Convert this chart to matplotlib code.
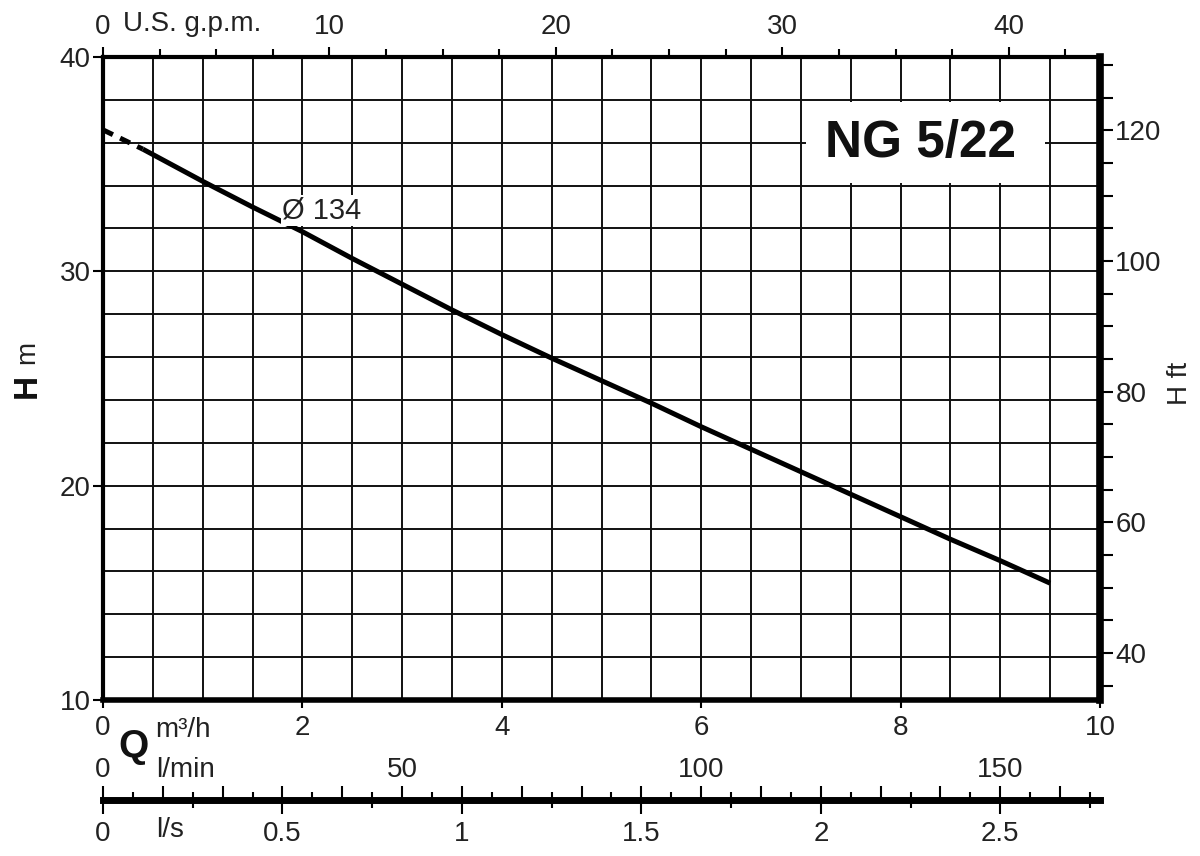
import numpy as np
import matplotlib
matplotlib.use("Agg")
import matplotlib.pyplot as plt
from matplotlib.ticker import MultipleLocator, FixedLocator, FuncFormatter
from matplotlib.patches import Rectangle

plt.rcParams['font.family'] = ['Liberation Sans', 'DejaVu Sans']

# pump curve NG 5/22, impeller 134 mm  (Q in m3/h, H in m)
q_curve = [0.4, 0.5, 1.0, 1.5, 2.0, 2.5, 3.0, 3.5, 4.0, 4.5, 5.0, 5.5, 6.0, 6.5, 7.0, 7.5, 8.0, 8.5, 9.0, 9.5]
h_curve = [35.7, 35.45, 34.2, 33.0, 31.85, 30.6, 29.4, 28.2, 27.05, 25.95, 24.9, 23.85, 22.75, 21.7, 20.65, 19.6, 18.55, 17.5, 16.5, 15.45]
# dashed start (shut-off head)
q_dash = [0.0, 0.4]
h_dash = [36.6, 35.7]

model = "NG 5/22"
diam_label = "Ø 134"

gpm_labels = [0, 10, 20, 30, 40]
gpm_minor = [0, 2.5, 5, 7.5, 10, 12.5, 15, 17.5, 20, 22.5, 25, 27.5, 30, 32.5, 35, 37.5, 40, 42.5]

# unit conversions
GPM = 4.4029      # US gpm per m3/h
FT = 3.2808       # ft per m
LMIN = 60.0       # l/min per l/s
LS = 1 / 3.6      # l/s per m3/h

tick_col = '#222222'
fs = 20
W, H = 1200, 856

fig = plt.figure(figsize=(12, 8.56), dpi=100)
ax = fig.add_axes([103 / W, 1 - 700 / H, 997 / W, 643 / H])

ax.set_xlim(0, 10)
ax.set_ylim(10, 40)
ax.set_xticks([0, 2, 4, 6, 8, 10])
ax.set_yticks([10, 20, 30, 40])
ax.set_xticks(np.arange(0, 10.01, 0.5), minor=True)
ax.set_yticks(np.arange(10, 40.01, 2), minor=True)
ax.grid(True, which='both', color='#111111', lw=1.4)
ax.tick_params(which='minor', length=0)
ax.tick_params(axis='x', which='major', direction='out', length=6, width=1.5,
               labelsize=fs, labelcolor=tick_col, pad=5)
ax.tick_params(axis='y', which='major', direction='out', length=7, width=1.5,
               labelsize=fs, labelcolor=tick_col, pad=2)
ax.spines['left'].set_linewidth(3)
ax.spines['top'].set_linewidth(3)
ax.spines['bottom'].set_linewidth(4)
ax.spines['right'].set_linewidth(5.5)

ax.plot(q_curve, h_curve, color='black', lw=3.6, solid_capstyle='butt', zorder=3)
ax.plot(q_dash, h_dash, color='black', lw=3.6, ls=(0, (2.2, 1.6)), zorder=3)

ax.add_patch(Rectangle((7.05, 34.1), 2.4, 3.8, facecolor='white', edgecolor='none', zorder=2))
ax.text(8.2, 35.95, model, fontsize=37, fontweight='bold', ha='center', va='center',
        color='#111111', zorder=4)
ax.text(1.8, 32.85, diam_label, fontsize=21, ha='left', va='center', color='#222222', zorder=4,
        bbox=dict(facecolor='white', edgecolor='none', pad=1))

# top axis: US gpm
top = ax.secondary_xaxis('top', functions=(lambda q: q * GPM, lambda g: g / GPM))
top.xaxis.set_major_locator(FixedLocator(gpm_labels))
top.xaxis.set_minor_locator(FixedLocator(gpm_minor))
top.tick_params(which='major', length=7, width=1.5, labelsize=fs, labelcolor=tick_col, pad=5)
top.tick_params(which='minor', length=6, width=1.5)
top.spines['top'].set_visible(False)

# right axis: H ft
right = ax.secondary_yaxis('right', functions=(lambda h: h * FT, lambda f: f / FT))
right.yaxis.set_major_locator(MultipleLocator(5))
right.yaxis.set_major_formatter(FuncFormatter(lambda v, p: f"{v:.0f}" if round(v) % 20 == 0 else ""))
right.tick_params(which='major', length=9, width=1.5, labelsize=fs, labelcolor=tick_col, pad=2)
right.spines['right'].set_visible(False)

# lower scale: l/s below, l/min above
axq = fig.add_axes([103 / W, 1 - 800 / H, 997 / W, 0.0001])
axq.set_xlim(0, 10 * LS)
axq.set_yticks([])
for s in ['left', 'right', 'top']:
    axq.spines[s].set_visible(False)
axq.spines['bottom'].set_linewidth(5)
axq.patch.set_visible(False)
axq.xaxis.set_major_locator(MultipleLocator(0.5))
axq.xaxis.set_minor_locator(MultipleLocator(0.25))
axq.xaxis.set_major_formatter(FuncFormatter(lambda v, p: f"{v:g}"))
axq.tick_params(axis='x', which='major', length=10, width=1.5, labelsize=fs,
                labelcolor=tick_col, pad=5)
axq.tick_params(axis='x', which='minor', length=6, width=1.5)

lmin = axq.secondary_xaxis('top', functions=(lambda s: s * LMIN, lambda m: m / LMIN))
lmin.xaxis.set_major_locator(MultipleLocator(10))
lmin.xaxis.set_minor_locator(MultipleLocator(5))
lmin.xaxis.set_major_formatter(FuncFormatter(lambda v, p: f"{v:.0f}" if round(v) % 50 == 0 else ""))
lmin.tick_params(which='major', length=10, width=1.5, labelsize=fs, labelcolor=tick_col, pad=2)
lmin.tick_params(which='minor', length=6, width=1.5)
lmin.spines['top'].set_visible(False)

# unit labels
fig.text(123 / W, 1 - 24 / H, "U.S. g.p.m.", fontsize=fs, color=tick_col, ha='left', va='center')
fig.text(134 / W, 1 - 747 / H, "Q", fontsize=28, fontweight='bold', color='#111111', ha='center', va='center')
fig.text(155 / W, 1 - 730 / H, "m³/h", fontsize=fs, color=tick_col, ha='left', va='center')
fig.text(156 / W, 1 - 770 / H, "l/min", fontsize=fs, color=tick_col, ha='left', va='center')
fig.text(156 / W, 1 - 830 / H, "l/s", fontsize=fs, color=tick_col, ha='left', va='center')
fig.text(1180 / W, 1 - 383 / H, "H ft", fontsize=fs, color=tick_col, rotation=90, ha='center', va='center')
fig.text(27 / W, 1 - 386 / H, "H", fontsize=24, fontweight='bold', color='#111111', rotation=90, ha='center', va='center')
fig.text(27 / W, 1 - 352 / H, "m", fontsize=fs, color=tick_col, rotation=90, ha='center', va='center')

fig.savefig("out.png", dpi=100, facecolor='white')
